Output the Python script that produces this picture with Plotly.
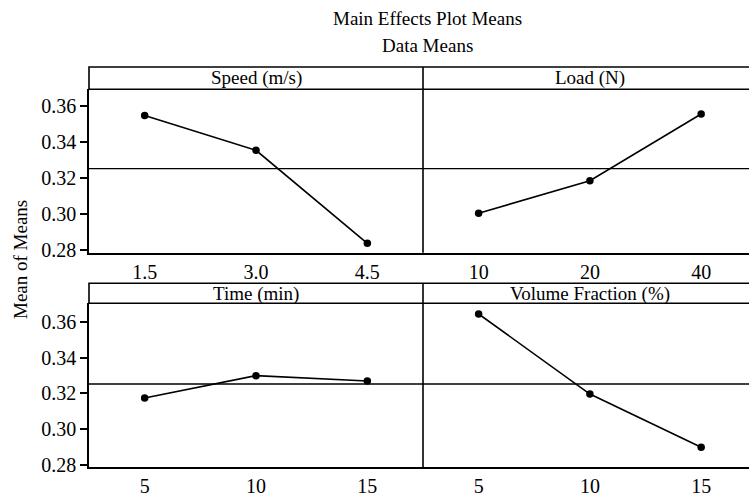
import plotly.graph_objects as go

# ---- data ----
speed_levels = ["1.5", "3.0", "4.5"]
speed_means = [0.3548, 0.3354, 0.2837]
load_levels = ["10", "20", "40"]
load_means = [0.3004, 0.3185, 0.3556]
time_levels = ["5", "10", "15"]
time_means = [0.3174, 0.3299, 0.3269]
vf_levels = ["5", "10", "15"]
vf_means = [0.3645, 0.3196, 0.2897]
grand_mean = 0.3252
panel_titles = ["Speed (m/s)", "Load (N)", "Time (min)", "Volume Fraction (%)"]
y_ticks = [0.28, 0.30, 0.32, 0.34, 0.36]

FONT = "Liberation Serif"
W, H = 749, 497
L = 89

def py(px):
    return 1 - px / H

def pxx(px):
    return (px - L) / (W - L)

fig = go.Figure()

series = [
    (speed_levels, speed_means, "x", "y"),
    (load_levels, load_means, "x2", "y2"),
    (time_levels, time_means, "x3", "y3"),
    (vf_levels, vf_means, "x4", "y4"),
]
for cats, vals, xa, ya in series:
    fig.add_trace(go.Scatter(
        x=cats, y=vals, xaxis=xa, yaxis=ya, mode="lines+markers",
        line=dict(color="black", width=1.6),
        marker=dict(color="black", size=7.5),
        showlegend=False, hoverinfo="skip"))

xmid = pxx(423)
top_dom = [py(252.7), py(89.3)]
bot_dom = [py(467.3), py(303.3)]
top_range = [0.2785, 0.3693]
bot_range = [0.2785, 0.3705]

tickfont = dict(family=FONT, size=20, color="black")

def xax(domain, anchor, rng):
    return dict(domain=domain, anchor=anchor, type="category", range=rng,
                showline=True, linecolor="black", linewidth=1.6,
                ticks="", showgrid=False, zeroline=False, tickfont=tickfont,
                automargin=False)

def yax(domain, anchor, rng, labels):
    d = dict(domain=domain, anchor=anchor, range=rng, showgrid=False, zeroline=False,
             automargin=False, tickfont=tickfont)
    if labels:
        d.update(tickvals=y_ticks, tickformat=".2f", ticks="outside", ticklen=7,
                 tickwidth=1.6, tickcolor="black", showline=True, linecolor="black",
                 linewidth=1.6)
    else:
        d.update(showticklabels=False, ticks="", showline=False)
    return d

fig.update_layout(
    width=W, height=H,
    margin=dict(l=L, r=0, t=0, b=0),
    paper_bgcolor="white", plot_bgcolor="white",
    font=dict(family=FONT, size=19, color="black"),
    xaxis=xax([0, xmid], "y", [-0.5, 2.5]),
    xaxis2=xax([xmid, 1], "y2", [-0.5, 2.43]),
    xaxis3=xax([0, xmid], "y3", [-0.5, 2.5]),
    xaxis4=xax([xmid, 1], "y4", [-0.5, 2.43]),
    yaxis=yax(top_dom, "x", top_range, True),
    yaxis2=yax(top_dom, "x2", top_range, False),
    yaxis3=yax(bot_dom, "x3", bot_range, True),
    yaxis4=yax(bot_dom, "x4", bot_range, False),
)

shapes = []
lw = 1.6
# strips and panel divider
for top_px, dom in [(67, top_dom), (283.3, bot_dom)]:
    shapes.append(dict(type="rect", xref="paper", yref="paper", x0=0, x1=1.1,
                       y0=dom[1], y1=py(top_px), line=dict(color="black", width=lw)))
    shapes.append(dict(type="line", xref="paper", yref="paper", x0=xmid, x1=xmid,
                       y0=dom[0], y1=py(top_px), line=dict(color="black", width=lw)))
# grand mean reference lines
for ya in ["y", "y3"]:
    shapes.append(dict(type="line", xref="paper", yref=ya, x0=0, x1=1.1,
                       y0=grand_mean, y1=grand_mean, line=dict(color="black", width=1.4)))
fig.update_layout(shapes=shapes)

ann = []
strip_pos = [("x", py(78.5)), ("x2", py(78.5)), ("x3", py(293.5)), ("x4", py(293.5))]
for title, (xa, yy) in zip(panel_titles, strip_pos):
    ann.append(dict(text=title, xref=xa, x=1, yref="paper", y=yy, showarrow=False,
                    xanchor="center", yanchor="middle",
                    font=dict(family=FONT, size=19, color="black")))
ann.append(dict(text="Main Effects Plot Means", xref="paper", x=pxx(427), yref="paper",
                y=py(18), showarrow=False, xanchor="center", yanchor="middle",
                font=dict(family=FONT, size=19, color="black")))
ann.append(dict(text="Data Means", xref="paper", x=pxx(427), yref="paper",
                y=py(45), showarrow=False, xanchor="center", yanchor="middle",
                font=dict(family=FONT, size=19, color="black")))
ann.append(dict(text="Mean of Means", xref="paper", x=pxx(20), yref="paper",
                y=py(260), showarrow=False, textangle=-90, xanchor="center", yanchor="middle",
                font=dict(family=FONT, size=19, color="black")))
fig.update_layout(annotations=ann)

fig.write_html("out.html", config={"displayModeBar": False},
               post_script="document.body.style.margin='0';")
